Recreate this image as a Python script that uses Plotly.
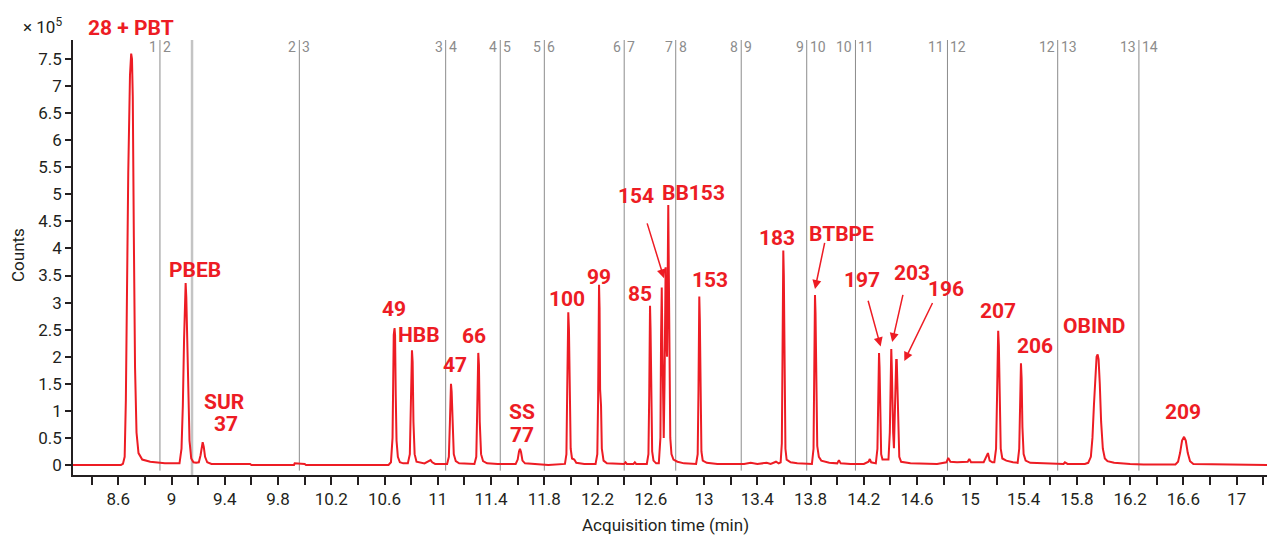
import plotly.graph_objects as go

# chromatogram trace (time in min, counts in units of 1e5)
time_min = [
    8.26, 8.62, 8.635,
    # 28 + PBT
    8.648, 8.657, 8.665, 8.675, 8.688, 8.697, 8.703, 8.709, 8.717, 8.726, 8.737, 8.752, 8.78, 8.84, 8.95, 9.04,
    # PBEB
    9.06, 9.075, 9.085, 9.094, 9.101, 9.106, 9.111, 9.118, 9.126, 9.135, 9.148, 9.165, 9.185,
    # SUR 37
    9.205, 9.218, 9.226, 9.234, 9.242, 9.252, 9.268, 9.30, 9.59, 9.60, 9.92, 9.925, 10.0, 10.01,
    # 49
    10.63, 10.648, 10.66, 10.665, 10.669, 10.675, 10.679, 10.684, 10.69, 10.70, 10.715, 10.74,
    # HBB
    10.775, 10.79, 10.797, 10.802, 10.806, 10.811, 10.817, 10.826, 10.84, 10.90, 10.935, 10.946, 10.958, 10.98,
    # 47
    11.07, 11.083, 11.091, 11.096, 11.099, 11.104, 11.11, 11.12, 11.135, 11.16,
    # 66
    11.275, 11.289, 11.296, 11.301, 11.304, 11.309, 11.315, 11.325, 11.34, 11.37, 11.45,
    # SS 77
    11.585, 11.60, 11.61, 11.617, 11.625, 11.636, 11.655, 11.75, 11.83,
    # 100
    11.955, 11.966, 11.972, 11.977, 11.98, 11.985, 11.991, 11.998, 12.008, 12.025, 12.04, 12.10,
    # 99
    12.185, 12.198, 12.204, 12.208, 12.211, 12.215, 12.219, 12.226, 12.232, 12.245, 12.27,
    12.40, 12.41, 12.42, 12.47, 12.48, 12.49,
    # 85
    12.57, 12.582, 12.588, 12.591, 12.594, 12.598, 12.603, 12.61, 12.62, 12.64,
    # 154 / BB153
    12.66, 12.672, 12.677, 12.682, 12.687, 12.692, 12.697, 12.703, 12.708, 12.711, 12.716, 12.722,
    12.727, 12.731, 12.735, 12.74, 12.746, 12.755, 12.77, 12.80, 12.85,
    # 153
    12.94, 12.952, 12.958, 12.961, 12.964, 12.968, 12.973, 12.98, 12.99, 13.02, 13.10,
    13.30, 13.35, 13.40, 13.47, 13.50, 13.54, 13.56,
    # 183
    13.575, 13.584, 13.589, 13.592, 13.595, 13.599, 13.604, 13.611, 13.62, 13.65, 13.70, 13.78,
    # BTBPE
    13.81, 13.822, 13.827, 13.83, 13.833, 13.837, 13.842, 13.85, 13.862, 13.88, 13.94, 14.0,
    14.013, 14.026, 14.10, 14.20, 14.235, 14.245, 14.255,
    # 197
    14.29, 14.302, 14.307, 14.311, 14.314, 14.318, 14.323, 14.33, 14.34, 14.37,
    # 203 / 196
    14.385, 14.395, 14.40, 14.403, 14.406, 14.41, 14.416, 14.42, 14.426, 14.432, 14.438, 14.443,
    14.447, 14.452, 14.458, 14.466, 14.48, 14.55, 14.75, 14.82, 14.834, 14.85, 14.90, 14.98,
    14.992, 15.005, 15.10, 15.12, 15.132, 15.145, 15.165,
    # 207
    15.18, 15.193, 15.20, 15.205, 15.209, 15.214, 15.22, 15.228, 15.24, 15.27, 15.32,
    # 206
    15.355, 15.367, 15.373, 15.377, 15.38, 15.385, 15.391, 15.40, 15.415, 15.45, 15.60,
    15.70, 15.71, 15.73, 15.86,
    # OBIND
    15.885, 15.905, 15.917, 15.928, 15.938, 15.948, 15.956, 15.963, 15.972, 15.982, 15.995,
    16.01, 16.03, 16.08, 16.20, 16.30,
    # 209
    16.54, 16.56, 16.575, 16.59, 16.605, 16.618, 16.633, 16.65, 16.675, 17.23,
]
counts_1e5 = [
    0.0, 0.0, 0.02,
    0.15, 1.2, 3.4, 5.4, 7.2, 7.6, 7.5, 6.8, 4.2, 1.8, 0.6, 0.22, 0.1, 0.06, 0.03, 0.02,
    0.03, 0.3, 1.1, 2.3, 3.2, 3.36, 3.1, 2.3, 1.2, 0.45, 0.12, 0.05, 0.04,
    0.05, 0.18, 0.35, 0.42, 0.34, 0.15, 0.05, 0.02, 0.02, 0.0, 0.0, 0.03, 0.02, 0.0,
    0.0, 0.05, 0.5, 1.9, 2.4, 2.53, 2.4, 1.3, 0.45, 0.15, 0.05, 0.03,
    0.03, 0.2, 1.1, 2.0, 2.12, 1.9, 0.8, 0.2, 0.06, 0.03, 0.07, 0.09, 0.05, 0.02,
    0.02, 0.15, 0.8, 1.4, 1.5, 1.35, 0.7, 0.2, 0.07, 0.03,
    0.02, 0.15, 1.0, 1.9, 2.07, 1.85, 0.8, 0.2, 0.07, 0.03, 0.02,
    0.02, 0.1, 0.25, 0.30, 0.24, 0.08, 0.03, 0.02, 0.0,
    0.02, 0.2, 1.4, 2.6, 2.82, 2.5, 1.2, 0.3, 0.12, 0.1, 0.04, 0.02,
    0.02, 0.2, 1.2, 3.0, 3.33, 2.9, 1.4, 1.1, 0.3, 0.08, 0.03,
    0.02, 0.05, 0.02, 0.02, 0.05, 0.02,
    0.02, 0.2, 1.3, 2.7, 2.94, 2.5, 1.0, 0.25, 0.08, 0.03,
    0.03, 0.5, 2.4, 3.28, 2.2, 0.7, 0.5, 1.5, 3.0, 3.65, 2.4, 2.0,
    3.6, 4.8, 3.6, 1.6, 0.5, 0.2, 0.1, 0.06, 0.03,
    0.02, 0.2, 1.4, 2.8, 3.11, 2.7, 1.1, 0.25, 0.08, 0.04, 0.02,
    0.02, 0.04, 0.02, 0.04, 0.02, 0.06, 0.03,
    0.05, 0.4, 2.0, 3.6, 3.96, 3.5, 1.4, 0.3, 0.1, 0.05, 0.03, 0.02,
    0.02, 0.3, 1.6, 2.9, 3.14, 2.8, 1.2, 0.35, 0.15, 0.08, 0.04, 0.03,
    0.09, 0.03, 0.02, 0.02, 0.06, 0.11, 0.05,
    0.03, 0.3, 1.3, 2.0, 2.07, 1.8, 0.7, 0.2, 0.1, 0.1,
    0.1, 0.6, 1.6, 2.05, 2.14, 1.8, 0.8, 0.6, 0.31, 0.9, 1.7, 1.94,
    1.94, 1.4, 0.5, 0.15, 0.06, 0.03, 0.02, 0.05, 0.13, 0.06, 0.05, 0.06,
    0.11, 0.05, 0.05, 0.15, 0.22, 0.08, 0.05,
    0.05, 0.3, 1.2, 2.2, 2.48, 2.2, 1.0, 0.3, 0.12, 0.08, 0.05,
    0.04, 0.3, 1.2, 1.75, 1.88, 1.6, 0.7, 0.2, 0.08, 0.04, 0.02,
    0.02, 0.05, 0.02, 0.02,
    0.04, 0.15, 0.5, 1.1, 1.7, 2.0, 2.04, 1.95, 1.5, 0.8, 0.3,
    0.12, 0.07, 0.04, 0.02, 0.01,
    0.01, 0.06, 0.22, 0.45, 0.52, 0.45, 0.22, 0.07, 0.02, 0.0,
]

# compound labels (the first one sits above the plot area, in paper coordinates)
top_label = "28 + PBT"
top_label_t = 8.693
label_text = ["PBEB", "SUR", "37", "49", "HBB", "47", "66", "SS", "77", "100", "99",
              "85", "154", "BB153", "153", "183", "BTBPE", "197", "203", "196", "207", "206",
              "OBIND", "209"]
label_t = [9.177, 9.392, 9.41, 10.673, 10.861, 11.129, 11.274, 11.63, 11.63, 11.972, 12.213,
           12.518, 12.489, 12.924, 13.043, 13.55, 14.033, 14.184, 14.564, 14.817, 15.205, 15.485,
           15.931, 16.599]
label_v = [3.60, 1.16, 0.76, 2.89, 2.40, 1.85, 2.38, 0.97, 0.55, 3.06, 3.47,
           3.16, 4.97, 5.02, 3.42, 4.20, 4.27, 3.42, 3.55, 3.25, 2.85, 2.20,
           2.56, 0.98]

# arrows from label to peak
arrow_tail_t = [12.569, 13.908, 14.229, 14.496, 14.721]
arrow_tail_v = [4.49, 4.13, 3.06, 3.17, 3.02]
arrow_head_t = [12.699, 13.833, 14.326, 14.413, 14.504]
arrow_head_v = [3.45, 3.25, 2.19, 2.27, 1.92]

# time segment boundaries
seg_times = [8.913, 9.96, 11.059, 11.469, 11.80, 12.40, 12.787, 13.279, 13.771, 14.137,
             14.828, 15.656, 16.266, 17.266]
extra_line_t = 9.154

RED = "#ed1c24"
INK = "#231f20"
FONT = "Roboto, Liberation Sans, sans-serif"

fig = go.Figure()
fig.add_trace(go.Scatter(x=time_min, y=counts_1e5, mode="lines",
                         line=dict(color=RED, width=2), hoverinfo="skip"))

shapes = []
for t in seg_times:
    shapes.append(dict(type="line", xref="x", yref="paper", x0=t, x1=t, y0=0.01, y1=1,
                       line=dict(color="#8c8c8c", width=1), layer="below"))
shapes.append(dict(type="line", xref="x", yref="paper", x0=extra_line_t, x1=extra_line_t,
                   y0=0.0, y1=1, line=dict(color="#c4c4c4", width=2.5), layer="below"))

annotations = []
for i, t in enumerate(seg_times):
    annotations.append(dict(x=t, y=0.984, xref="x", yref="paper", text=str(i + 1),
                            xanchor="right", yanchor="middle", showarrow=False, xshift=-1,
                            font=dict(family=FONT, size=14, color="#8c8c8c")))
    annotations.append(dict(x=t, y=0.984, xref="x", yref="paper", text=str(i + 2),
                            xanchor="left", yanchor="middle", showarrow=False, xshift=1,
                            font=dict(family=FONT, size=14, color="#8c8c8c")))

annotations.append(dict(x=top_label_t, y=1.028, xref="x", yref="paper",
                        text="<b>%s</b>" % top_label, showarrow=False,
                        xanchor="center", yanchor="middle",
                        font=dict(family=FONT, size=21, color=RED)))
for txt, t, v in zip(label_text, label_t, label_v):
    annotations.append(dict(x=t, y=v, xref="x", yref="y", text="<b>%s</b>" % txt,
                            showarrow=False, xanchor="center", yanchor="middle",
                            font=dict(family=FONT, size=21, color=RED)))

for tt, tv, ht, hv in zip(arrow_tail_t, arrow_tail_v, arrow_head_t, arrow_head_v):
    annotations.append(dict(x=ht, y=hv, ax=tt, ay=tv, xref="x", yref="y", axref="x", ayref="y",
                            text="", showarrow=True, arrowhead=2, arrowsize=1.2,
                            arrowwidth=1.5, arrowcolor=RED))

annotations.append(dict(x=-0.0254, y=1.032, xref="paper", yref="paper", text="× 10<sup>5</sup>",
                        showarrow=False, xanchor="center", yanchor="middle",
                        font=dict(family=FONT, size=17, color=INK)))
annotations.append(dict(x=-0.046, y=0.506, xref="paper", yref="paper", text="Counts",
                        textangle=-90, showarrow=False, xanchor="center", yanchor="middle",
                        font=dict(family=FONT, size=17, color=INK)))
annotations.append(dict(x=0.496, y=-0.115, xref="paper", yref="paper",
                        text="Acquisition time (min)", showarrow=False,
                        xanchor="center", yanchor="middle",
                        font=dict(family=FONT, size=17, color=INK)))

x_major = [8.6 + 0.4 * i for i in range(22)]
x_text = ["%g" % round(v, 1) for v in x_major]
y_major = [0.5 * i for i in range(16)]
y_text = ["%g" % v for v in y_major]

fig.update_layout(
    width=1267, height=536,
    margin=dict(l=73, r=0, t=40, b=61),
    paper_bgcolor="white", plot_bgcolor="white",
    showlegend=False,
    font=dict(family=FONT, size=17, color=INK),
    shapes=shapes,
    annotations=annotations,
    xaxis=dict(range=[8.26, 17.228], showgrid=False, zeroline=False,
               showline=True, linecolor=INK, linewidth=1.5,
               tickmode="array", tickvals=x_major, ticktext=x_text,
               ticks="outside", ticklen=8, tickcolor=INK, tickwidth=1.5,
               minor=dict(tick0=8.4, dtick=0.2, ticks="outside", ticklen=8,
                          tickcolor=INK, tickwidth=1.5),
               tickfont=dict(family=FONT, size=17, color=INK)),
    yaxis=dict(range=[-0.185, 7.85], showgrid=False, zeroline=False,
               showline=True, linecolor=INK, linewidth=1.5,
               tickmode="array", tickvals=y_major, ticktext=y_text,
               ticks="outside", ticklen=6, tickcolor=INK, tickwidth=1.5,
               tickfont=dict(family=FONT, size=17, color=INK)),
)

# drop the default page margin so the figure sits at the window's corner
fig.write_html("out.html", config={"displayModeBar": False},
               post_script="document.body.style.margin='0';")
